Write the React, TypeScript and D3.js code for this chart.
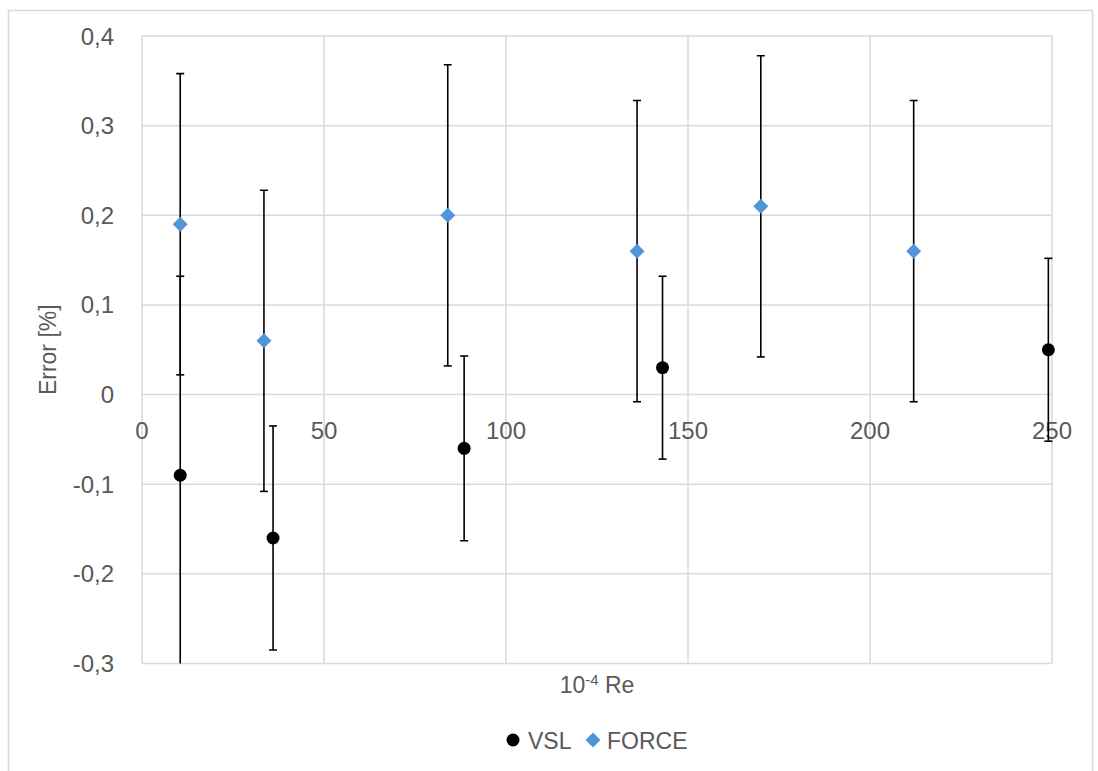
import React from "react";
import { scaleLinear, symbol, symbolCircle, symbolSquare } from "d3";

// values
const vslRe = [10.5, 36, 88.5, 143, 249];
const vslErr = [-0.09, -0.16, -0.06, 0.03, 0.05];
const vslBar = [0.222, 0.125, 0.103, 0.102, 0.102];

const forceRe = [10.5, 33.5, 84, 136, 170, 212];
const forceErr = [0.19, 0.06, 0.2, 0.16, 0.21, 0.16];
const forceBar = [0.168, 0.168, 0.168, 0.168, 0.168, 0.168];

const xTicks = [0, 50, 100, 150, 200, 250];
const yTicks = [-0.3, -0.2, -0.1, 0, 0.1, 0.2, 0.3, 0.4];

const W = 1098;
const H = 771;
const left = 142;
const right = 1052;
const top = 36;
const bottom = 663.5;

const textColor = "#595959";
const gridColor = "#d9d9d9";
const blue = "#4e95d9";
const font = "'Liberation Sans', Arial, sans-serif";

function App() {
  const x = scaleLinear().domain([0, 250]).range([left, right]);
  const y = scaleLinear().domain([-0.3, 0.4]).range([bottom, top]);

  const circlePath = symbol().type(symbolCircle).size(Math.PI * 6.5 * 6.5)()!;
  // square turned 45deg = the excel diamond
  const diamondPath = symbol().type(symbolSquare).size(112)()!;

  const fmt = (v: number) => (v === 0 ? "0" : v.toFixed(1).replace(".", ","));

  const errorBar = (re: number, v: number, e: number, key: string) => {
    const cx = x(re);
    return (
      <g key={key} stroke="#000" strokeWidth={1.6}>
        <line x1={cx} x2={cx} y1={y(v + e)} y2={y(v - e)} />
        <line x1={cx - 4} x2={cx + 4} y1={y(v + e)} y2={y(v + e)} />
        <line x1={cx - 4} x2={cx + 4} y1={y(v - e)} y2={y(v - e)} />
      </g>
    );
  };

  return (
    <svg width={W} height={H} style={{ position: "absolute", left: 0, top: 0 }}>
      <rect x={0} y={0} width={W} height={H} fill="#fff" />
      <rect x={8.5} y={10.5} width={1084} height={780} fill="none" stroke={gridColor} strokeWidth={1.5} />
      <defs>
        <clipPath id="plot">
          <rect x={left - 10} y={top} width={right - left + 20} height={bottom - top} />
        </clipPath>
      </defs>

      {/* grid */}
      {yTicks.map((t) => (
        <line key={"gy" + t} x1={left} x2={right} y1={y(t)} y2={y(t)} stroke={gridColor} strokeWidth={1.5} />
      ))}
      {xTicks.map((t) => (
        <line key={"gx" + t} x1={x(t)} x2={x(t)} y1={top} y2={bottom} stroke={gridColor} strokeWidth={1.5} />
      ))}

      {/* tick labels */}
      {yTicks.map((t) => (
        <text key={"ty" + t} x={114} y={y(t) + 8.5} textAnchor="end" fontSize={24} fill={textColor} fontFamily={font}>
          {fmt(t)}
        </text>
      ))}
      {xTicks.map((t) => (
        <text key={"tx" + t} x={x(t)} y={y(0) + 44.5} textAnchor="middle" fontSize={24} fill={textColor} fontFamily={font}>
          {t}
        </text>
      ))}

      {/* axis titles */}
      <text
        transform={`translate(${56},${(top + bottom) / 2}) rotate(-90)`}
        textAnchor="middle"
        fontSize={23}
        fill={textColor}
        fontFamily={font}
      >
        Error [%]
      </text>
      <text x={(left + right) / 2} y={693} textAnchor="middle" fontSize={23} fill={textColor} fontFamily={font}>
        10<tspan dy={-8} fontSize={15}>-4</tspan>
        <tspan dy={8}> Re</tspan>
      </text>

      {/* error bars and points */}
      <g clipPath="url(#plot)">
        {vslRe.map((r, i) => errorBar(r, vslErr[i], vslBar[i], "ev" + i))}
        {vslRe.map((r, i) => (
          <path key={"v" + i} d={circlePath} transform={`translate(${x(r)},${y(vslErr[i])})`} fill="#000" />
        ))}
        {forceRe.map((r, i) => errorBar(r, forceErr[i], forceBar[i], "ef" + i))}
        {forceRe.map((r, i) => (
          <path
            key={"f" + i}
            d={diamondPath}
            transform={`translate(${x(r)},${y(forceErr[i])}) rotate(45)`}
            fill={blue}
          />
        ))}
      </g>

      {/* legend */}
      <path d={circlePath} transform="translate(513,740)" fill="#000" />
      <text x={528} y={748.5} fontSize={23} fill={textColor} fontFamily={font}>VSL</text>
      <path d={diamondPath} transform="translate(593,740) rotate(45)" fill={blue} />
      <text x={607} y={748.5} fontSize={23} fill={textColor} fontFamily={font}>FORCE</text>
    </svg>
  );
}

export default App;
